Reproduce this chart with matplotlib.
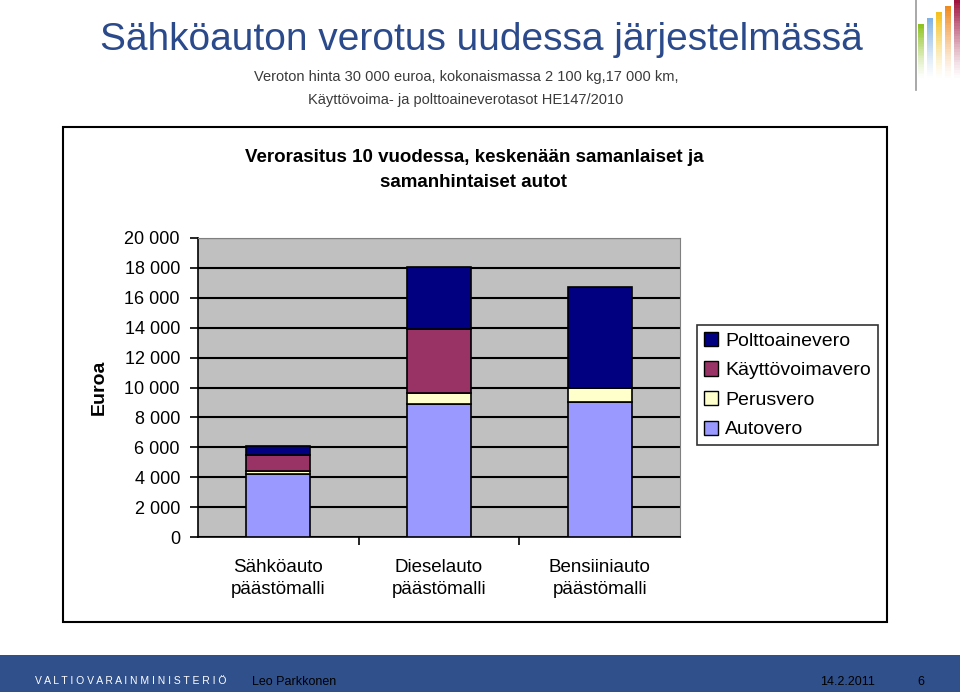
import numpy as np
import matplotlib
matplotlib.use("Agg")
import matplotlib.pyplot as plt
from matplotlib.patches import Rectangle
from matplotlib.lines import Line2D

# Data (euroa, 10 vuotta)
cars = ["Sähköauto\npäästömalli", "Dieselauto\npäästömalli", "Bensiiniauto\npäästömalli"]
autovero = [4200, 8900, 9050]
perusvero = [230, 750, 900]
kayttovoimavero = [1050, 4280, 0]
polttoainevero = [620, 4150, 6790]
y_ticks = [0, 2000, 4000, 6000, 8000, 10000, 12000, 14000, 16000, 18000, 20000]

series = [
    ("Autovero", autovero, "#9999FF"),
    ("Perusvero", perusvero, "#FFFFCC"),
    ("Käyttövoimavero", kayttovoimavero, "#993366"),
    ("Polttoainevero", polttoainevero, "#000080"),
]

W, H = 960, 692
fig = plt.figure(figsize=(9.6, 6.92), dpi=100)
plt.rcParams['font.family'] = ['Liberation Sans', 'DejaVu Sans']


def fx(px):
    return px / W


def fy(py):
    return 1 - py / H


# Titles
fig.text(fx(481), fy(40), "Sähköauton verotus uudessa järjestelmässä",
         ha="center", va="center", fontsize=28, color="#2B4A8B")
fig.text(fx(466), fy(77), "Veroton hinta 30 000 euroa, kokonaismassa 2 100 kg,17 000 km,",
         ha="center", va="center", fontsize=10.5, color="#3A3A3A")
fig.text(fx(466), fy(100), "Käyttövoima- ja polttoaineverotasot HE147/2010",
         ha="center", va="center", fontsize=10.5, color="#3A3A3A")

# Chart frame
fig.patches.append(Rectangle((fx(63), fy(622)), fx(887 - 63), (622 - 127) / H,
                             transform=fig.transFigure, fill=False,
                             edgecolor="black", linewidth=1.5))
fig.text(fx(474), fy(157), "Verorasitus 10 vuodessa, keskenään samanlaiset ja",
         ha="center", va="center", fontsize=13.5, fontweight="bold")
fig.text(fx(474), fy(182), "samanhintaiset autot",
         ha="center", va="center", fontsize=13.5, fontweight="bold")

# Plot area
ax = fig.add_axes([fx(198), fy(537), fx(680 - 198), (537 - 238) / H])
ax.set_facecolor("#C0C0C0")
x = np.arange(len(cars))
bottom = np.zeros(len(cars))
handles = []
for name, vals, col in series:
    vals = np.array(vals, dtype=float)
    ax.bar(x, vals, 0.4, bottom=bottom, color=col, edgecolor="black",
           linewidth=1.2, zorder=3)
    bottom += vals
    handles.append(Rectangle((0, 0), 1, 1, facecolor=col, edgecolor="black", linewidth=1))

ax.set_xlim(-0.5, 2.5)
ax.set_ylim(0, 20000)
ax.set_yticks(y_ticks)
ax.set_yticklabels([f"{v:,}".replace(",", " ") for v in y_ticks], fontsize=13)
ax.yaxis.grid(True, color="black", linewidth=1.5, zorder=0)
ax.set_axisbelow(True)
ax.set_xticks(x)
ax.set_xticklabels(cars, fontsize=13.5, linespacing=1.35)
ax.set_xticks([0.5, 1.5], minor=True)
ax.tick_params(axis="x", which="major", length=0, pad=16)
ax.tick_params(axis="x", which="minor", length=6, width=1.2, direction="out")
ax.tick_params(axis="y", length=6, width=1.2, direction="out", pad=7)
ax.spines["left"].set_linewidth(1.2)
ax.spines["bottom"].set_linewidth(1.2)
ax.spines["top"].set_color("#808080")
ax.spines["right"].set_color("#808080")
ax.set_ylabel("Euroa", fontsize=14, fontweight="bold", labelpad=12)

# Legend (top series first)
labels = [s[0] for s in series][::-1]
leg = fig.legend(handles[::-1], labels, loc="upper left",
                 bbox_to_anchor=(fx(697), fy(325)), fontsize=14,
                 frameon=True, fancybox=False, edgecolor="black",
                 handlelength=0.75, handleheight=0.75, handletextpad=0.35,
                 labelspacing=0.6, borderpad=0.35, borderaxespad=0)
leg.get_frame().set_linewidth(1.2)

# Footer bar
fig.patches.append(Rectangle((0, 0), 1, (692 - 655) / H, transform=fig.transFigure,
                             facecolor="#30508C", edgecolor="none"))
fig.text(fx(35), fy(681), "V A L T I O V A R A I N M I N I S T E R I Ö",
         ha="left", va="center", fontsize=7.5, color="white")
fig.text(fx(252), fy(682), "Leo Parkkonen", ha="left", va="center", fontsize=9,
         color="black")
fig.text(fx(820), fy(682), "14.2.2011", ha="left", va="center", fontsize=9,
         color="black")
fig.text(fx(917), fy(682), "6", ha="left", va="center", fontsize=9,
         color="black")

# Logo in top right corner
fig.add_artist(Line2D([fx(916), fx(916)], [fy(0), fy(90)], color="#999999",
                      linewidth=1.2, transform=fig.transFigure))
logo = [(918, 24, "#8DC21F"), (927, 18, "#7FB2E5"), (936, 12, "#F5C01A"),
        (945, 6, "#F08A1D"), (954, 0, "#A0123E")]
for lx, top, col in logo:
    n = 30
    step = (78 - top) / n
    for k in range(n):
        y0 = top + k * step
        fig.patches.append(Rectangle((fx(lx), fy(y0 + step)), fx(6),
                                     step / H, transform=fig.transFigure,
                                     facecolor=col, edgecolor="none",
                                     alpha=max(0.0, 1 - k / n) ** 1.3))

fig.savefig("out.png", dpi=100)
